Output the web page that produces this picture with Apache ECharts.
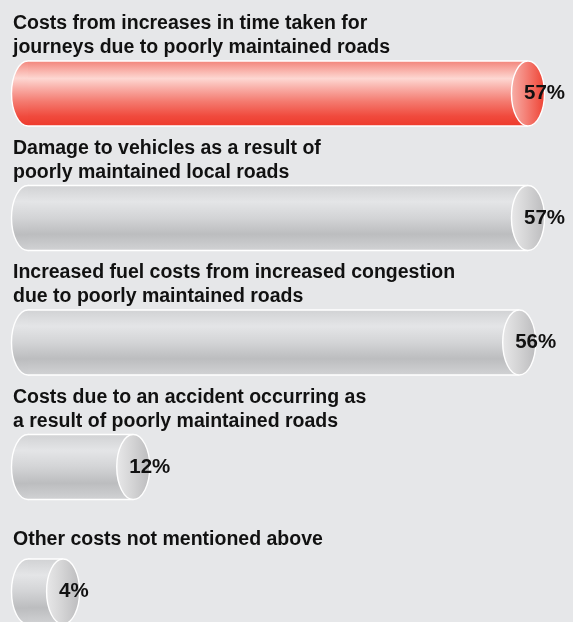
<!DOCTYPE html>
<html>
<head>
<meta charset="utf-8">
<style>
  html, body { margin: 0; padding: 0; background: #e6e7e9; }
  #chart { width: 573px; height: 622px; }
</style>
<script src="https://cdn.jsdelivr.net/npm/echarts@6/dist/echarts.min.js"></script>
</head>
<body>
<div id="chart"></div>
<script>
// Survey answers: share of respondents naming each cost
const categories = [
  'Costs from increases in time taken for\njourneys due to poorly maintained roads',
  'Damage to vehicles as a result of\npoorly maintained local roads',
  'Increased fuel costs from increased congestion\ndue to poorly maintained roads',
  'Costs due to an accident occurring as\na result of poorly maintained roads',
  'Other costs not mentioned above'
];
const values = [57, 57, 56, 12, 4];
const valueLabels = ['57%', '57%', '56%', '12%', '4%'];

const FONT = '"Liberation Sans", Arial, Helvetica, sans-serif';

const bodyRed = new echarts.graphic.LinearGradient(0, 0, 0, 1, [
  { offset: 0, color: '#f2847a' },
  { offset: 0.12, color: '#f8aaa2' },
  { offset: 0.27, color: '#fdd7d2' },
  { offset: 0.42, color: '#f9aea7' },
  { offset: 0.62, color: '#f47b70' },
  { offset: 0.85, color: '#f04a3d' },
  { offset: 1, color: '#ee3a2c' }
]);
const faceRed = new echarts.graphic.LinearGradient(0, 0, 1, 0, [
  { offset: 0, color: '#f7b0a9' },
  { offset: 0.45, color: '#f47f75' },
  { offset: 1, color: '#ee4132' }
]);
const bodyGray = new echarts.graphic.LinearGradient(0, 0, 0, 1, [
  { offset: 0, color: '#d1d2d4' },
  { offset: 0.25, color: '#e4e5e7' },
  { offset: 0.5, color: '#d3d4d6' },
  { offset: 0.75, color: '#bcbdbf' },
  { offset: 1, color: '#d1d2d4' }
]);
const faceGray = new echarts.graphic.LinearGradient(0, 0, 1, 0, [
  { offset: 0, color: '#e8e8e9' },
  { offset: 0.45, color: '#d5d5d6' },
  { offset: 1, color: '#bbbbbd' }
]);

function renderCylinder(params, api) {
  const i = params.dataIndex;
  const v = api.value(0);
  const start = api.coord([0, i]);
  const end = api.coord([v, i]);
  const band = api.size([0, 1])[1];
  const h = band * 0.522;
  const ry = h / 2;
  const rx = h * 0.254;
  const cy = start[1];
  const x0 = start[0];
  const x1 = end[0];
  const top = cy - ry;
  const bottom = cy + ry;
  const red = i === 0;
  const body = red ? bodyRed : bodyGray;
  const face = red ? faceRed : faceGray;
  const edge = { stroke: '#ffffff', lineWidth: 1.4 };

  const children = [
    { type: 'ellipse', shape: { cx: x0, cy: cy, rx: rx, ry: ry },
      style: Object.assign({ fill: body }, edge) },
    { type: 'rect', shape: { x: x0, y: top, width: x1 - x0, height: h },
      style: { fill: body } },
    { type: 'line', shape: { x1: x0, y1: top, x2: x1, y2: top }, style: edge },
    { type: 'line', shape: { x1: x0, y1: bottom, x2: x1, y2: bottom }, style: edge },
    { type: 'ellipse', shape: { cx: x1, cy: cy, rx: rx, ry: ry },
      style: Object.assign({ fill: face }, edge) },
    { type: 'text', x: x1 - 4, y: cy,
      style: { text: valueLabels[i], fill: '#111111', font: 'bold 20.5px ' + FONT,
               align: 'left', verticalAlign: 'middle' } }
  ];

  // Question text above each cylinder, one element per line
  const lines = categories[i].split('\n');
  const lineGap = 24;
  const lastBaseline = top - (lines.length > 1 ? 6 : 12);
  lines.forEach(function (line, k) {
    const baseline = lastBaseline - (lines.length - 1 - k) * lineGap;
    children.push({
      type: 'text', x: 13, y: baseline - 7,
      style: { text: line, fill: '#111111', font: 'bold 19.5px ' + FONT,
               align: 'left', verticalAlign: 'middle' }
    });
  });

  return { type: 'group', children: children };
}

const chart = echarts.init(document.getElementById('chart'), null, { renderer: 'canvas' });
chart.setOption({
  backgroundColor: '#e6e7e9',
  animation: false,
  grid: { left: 28, top: 31.25, width: 526.3, height: 622.5, outerBoundsMode: 'none', containLabel: false },
  xAxis: { type: 'value', min: 0, max: 60, show: false },
  yAxis: { type: 'category', data: categories, inverse: true, show: false },
  series: [{
    type: 'custom',
    renderItem: renderCylinder,
    data: values.map(function (v, i) { return [v, i]; }),
    encode: { x: 0, y: 1 },
    clip: false
  }]
});
</script>
</body>
</html>
